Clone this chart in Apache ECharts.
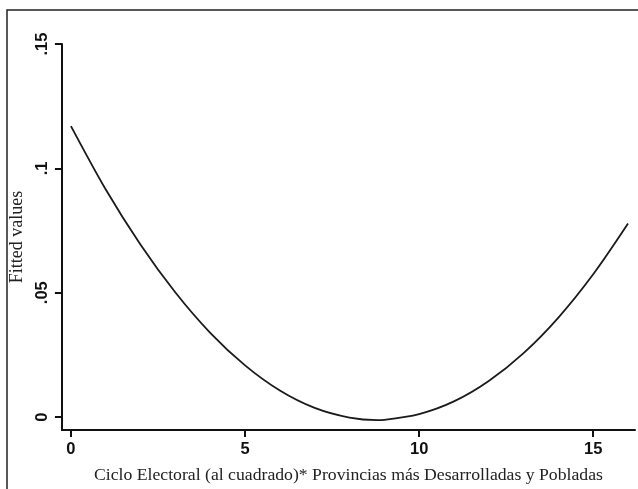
<!DOCTYPE html>
<html>
<head>
<meta charset="utf-8">
<script src="https://cdn.jsdelivr.net/npm/echarts@6/dist/echarts.min.js"></script>
<style>
  html, body { margin: 0; padding: 0; background: #fff; }
  #chart { width: 638px; height: 489px; }
</style>
</head>
<body>
<div id="chart"></div>
<script>
// values
const xValues = [0, 1, 2, 3, 4, 5, 6, 7, 8, 8.8, 9, 10, 11, 12, 13, 14, 15, 16]
const fitted = [0.117, 0.0915, 0.0693, 0.0501, 0.0339, 0.0208, 0.0107, 0.0037, -0.0002, -0.0012, -0.0011, 0.0012, 0.0063, 0.0145, 0.0257, 0.0400, 0.0574, 0.0778]
const xTicks = [0, 5, 10, 15]
const yTicks = [0, 0.05, 0.1, 0.15]
const yTickLabels = ['0', '.05', '.1', '.15']

let myChart = echarts.init(document.getElementById('chart'))
let option = {
	animation: false,
	grid: { left: 59, right: 3, top: 44, bottom: 58 },
	graphic: [{
		type: 'polyline',
		shape: { points: [[7, 489], [7, 10], [638, 10]] },
		style: { stroke: '#222', lineWidth: 1.5, fill: null }
	}],
	xAxis: {
		type: 'value',
		min: -0.26,
		max: 16.2,
		name: 'Ciclo Electoral (al cuadrado)* Provincias más Desarrolladas y Pobladas',
		nameLocation: 'middle',
		nameGap: 36,
		nameTextStyle: { fontFamily: 'Liberation Serif', fontSize: 17.7, color: '#222' },
		axisLine: { onZero: false, lineStyle: { color: '#111', width: 2 } },
		axisTick: { customValues: xTicks, length: 7, lineStyle: { color: '#111', width: 2 } },
		axisLabel: {
			customValues: xTicks,
			margin: 11,
			fontFamily: 'Liberation Sans',
			fontWeight: 'bold',
			fontSize: 16.5,
			color: '#111'
		},
		splitLine: { show: false }
	},
	yAxis: {
		type: 'value',
		min: -0.0052,
		max: 0.15,
		name: 'Fitted values',
		nameLocation: 'middle',
		nameGap: 26,
		nameTextStyle: { fontFamily: 'Liberation Serif', fontSize: 18, color: '#222' },
		axisLine: { show: true, onZero: false, lineStyle: { color: '#111', width: 2 } },
		axisTick: { show: true, customValues: yTicks, length: 7, lineStyle: { color: '#111', width: 2 } },
		axisLabel: {
			customValues: yTicks,
			rotate: 90,
			margin: 11,
			fontFamily: 'Liberation Sans',
			fontWeight: 'bold',
			fontSize: 16.5,
			color: '#111',
			formatter: function (v) {
				let i = yTicks.findIndex(t => Math.abs(t - v) < 1e-9)
				return i >= 0 ? yTickLabels[i] : ''
			}
		},
		splitLine: { show: false }
	},
	series: [{
		type: 'line',
		data: xValues.map((x, i) => [x, fitted[i]]),
		smooth: 0.3,
		showSymbol: false,
		lineStyle: { color: '#1a1a1a', width: 1.8 }
	}]
}
myChart.setOption(option)
</script>
</body>
</html>
